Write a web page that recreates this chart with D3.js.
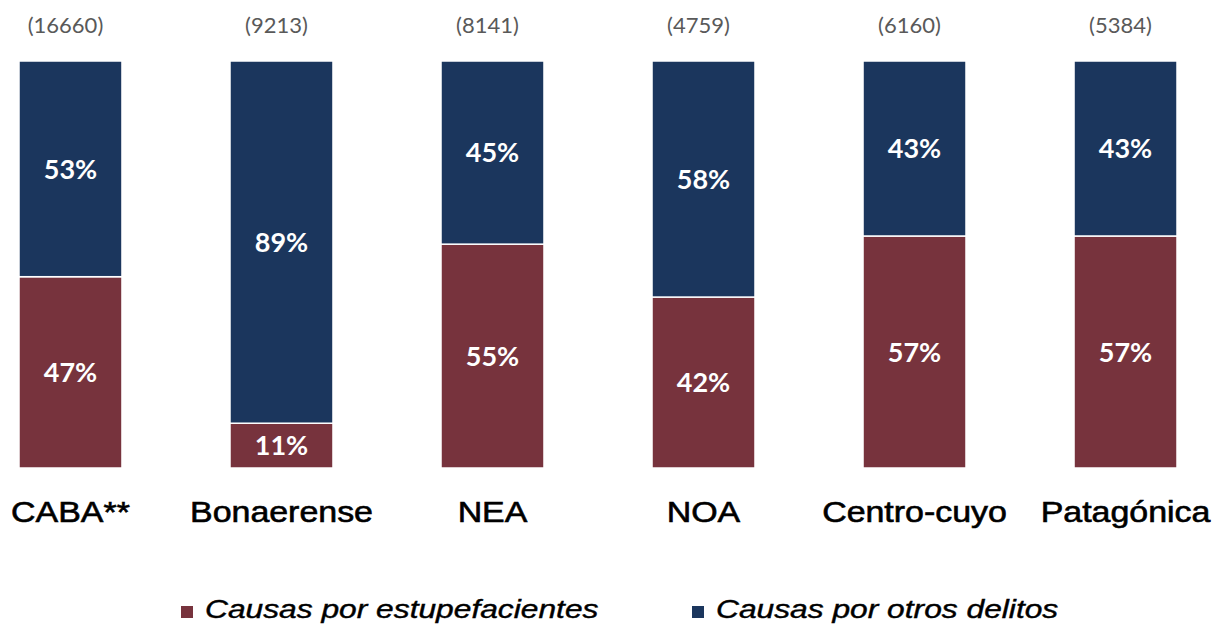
<!DOCTYPE html>
<html>
<head>
<meta charset="utf-8">
<script src="https://cdn.jsdelivr.net/npm/d3@7"></script>
<style>
  body { margin: 0; background: #fff; }
  .count { font-family: Lato, sans-serif; font-size: 22px; fill: #595959; }
  .pct { font-family: Lato, sans-serif; font-weight: 700; font-size: 27px; fill: #fff; }
  .cat { font-family: "Liberation Sans", Arial, sans-serif; font-size: 29px; fill: #000; stroke: #000; stroke-width: 0.6px; }
  .legend { font-family: "Liberation Sans", Arial, sans-serif; font-style: italic; font-size: 25px; fill: #000; stroke: #000; stroke-width: 0.4px; }
</style>
</head>
<body>
<div id="chart"></div>
<script>
var width = 1218,
    height = 629;

// data
var regions = ["CABA**", "Bonaerense", "NEA", "NOA", "Centro-cuyo", "Patagónica"];
var totals = ["(16660)", "(9213)", "(8141)", "(4759)", "(6160)", "(5384)"];
var estupefacientes = [47, 11, 55, 42, 57, 57];
var otrosDelitos = [53, 89, 45, 58, 43, 43];
var seriesNames = ["Causas por estupefacientes", "Causas por otros delitos"];
var colors = ["#77333d", "#1b365d"];

var svg = d3.select("#chart").append("svg")
    .attr("width", width)
    .attr("height", height);

var x = d3.scaleBand()
    .domain(regions)
    .range([19, 1177])
    .paddingInner(0.512)
    .paddingOuter(0);

var y = d3.scaleLinear()
    .domain([0, 100])
    .range([468, 61]);

var rows = regions.map(function(r, i) {
  return { region: r, total: totals[i], est: estupefacientes[i], otros: otrosDelitos[i] };
});

var stack = d3.stack().keys(["est", "otros"]);
var series = stack(rows);

var g = svg.append("g");

var layers = g.selectAll("g.layer")
    .data(series)
    .enter().append("g")
    .attr("class", "layer")
    .attr("fill", function(d, i) { return colors[i]; });

layers.selectAll("rect")
    .data(function(d) { return d; })
    .enter().append("rect")
    .attr("x", function(d) { return x(d.data.region); })
    .attr("y", function(d) { return y(d[1]); })
    .attr("width", x.bandwidth())
    .attr("height", function(d) { return y(d[0]) - y(d[1]); })
    .attr("stroke", "#fff")
    .attr("stroke-width", 1.5);

layers.selectAll("text")
    .data(function(d) { return d; })
    .enter().append("text")
    .attr("class", "pct")
    .attr("x", function(d) { return x(d.data.region) + x.bandwidth() / 2; })
    .attr("y", function(d) { return (y(d[0]) + y(d[1])) / 2; })
    .attr("dy", "0.36em")
    .attr("text-anchor", "middle")
    .text(function(d) { return (d[1] - d[0]) + "%"; });

// totals above bars (sit a little left of bar centre)
g.selectAll("text.count")
    .data(rows)
    .enter().append("text")
    .attr("class", "count")
    .attr("x", function(d) { return x(d.region) + x.bandwidth() / 2 - 5; })
    .attr("y", 33)
    .attr("text-anchor", "middle")
    .text(function(d) { return d.total; });

// category labels (wide font look)
g.selectAll("text.cat")
    .data(rows)
    .enter().append("text")
    .attr("class", "cat")
    .attr("text-anchor", "middle")
    .attr("transform", function(d) {
      return "translate(" + (x(d.region) + x.bandwidth() / 2) + ",522) scale(1.17,1)";
    })
    .text(function(d) { return d.region; });

// legend
var legendX = [181, 692];
var leg = svg.selectAll("g.leg")
    .data(seriesNames)
    .enter().append("g")
    .attr("class", "leg")
    .attr("transform", function(d, i) { return "translate(" + legendX[i] + ",0)"; });

leg.append("rect")
    .attr("x", 0)
    .attr("y", 606)
    .attr("width", 12)
    .attr("height", 12)
    .attr("fill", function(d, i) { return colors[i]; });

leg.append("text")
    .attr("class", "legend")
    .attr("transform", "translate(24,618) scale(1.27,1)")
    .text(function(d) { return d; });
</script>
</body>
</html>
